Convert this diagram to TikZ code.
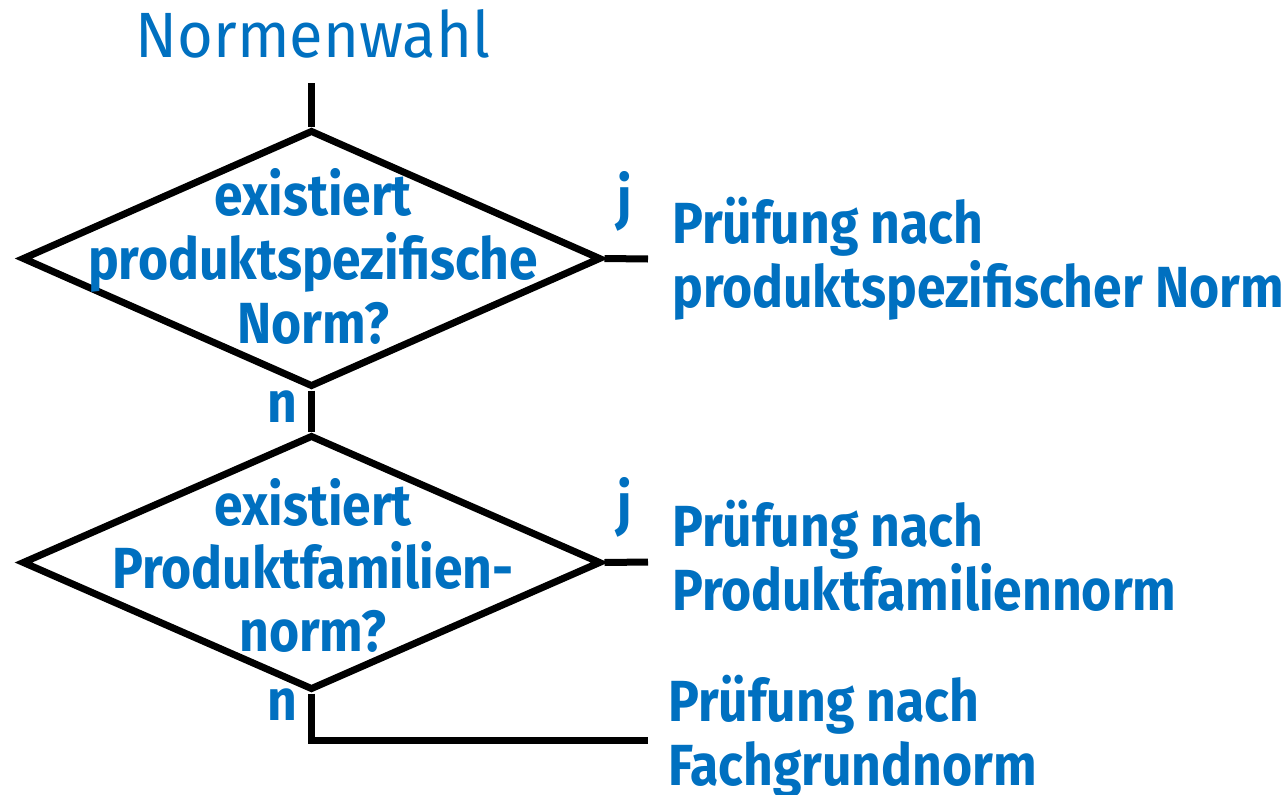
\documentclass[tikz,border=0pt]{standalone}
\usepackage{fontspec}
\setmainfont{Fira Sans}
\newfontfamily\bfam{Fira Sans}[FakeStretch=0.89]
\newfontfamily\tfam{Fira Sans}[FakeStretch=0.96]
\usetikzlibrary{shapes.geometric}
\definecolor{nblue}{RGB}{0,112,192}
\begin{document}
\begin{tikzpicture}[x=1pt,y=-1pt,
  line/.style={line width=7pt,draw=black},
  dia/.style={diamond,draw=black,line width=7pt,inner sep=0pt},
  lbl/.style={text=nblue,font=\bfam\fontsize{58}{64}\selectfont\bfseries,inner sep=0pt,anchor=base},
  res/.style={text=nblue,font=\bfam\fontsize{58}{64}\selectfont\bfseries,inner sep=0pt,align=left,anchor=base west},
  ttl/.style={text=nblue,font=\tfam\fontsize{64}{70}\selectfont,inner sep=0pt,anchor=base}]
\useasboundingbox (0,0) rectangle (1285,795);
\node[ttl] (title) at (313,57) {Normenwahl};
\coordinate (start) at (311.5,83);
\node[dia,minimum width=579pt,minimum height=257pt] (d1) at (311.5,258.5) {};
\node[dia,minimum width=579pt,minimum height=255pt] (d2) at (311.5,562.5) {};
\node[lbl] (q1a) at (313,215) {existiert};
\node[lbl] (q1b) at (313,279) {produktspezifische};
\node[lbl] (q1c) at (313,343) {Norm?};
\node[lbl] (q2a) at (313,525) {existiert};
\node[lbl] (q2b) at (313,588) {Produktfamilien-};
\node[lbl] (q2c) at (313,651) {norm?};
\node[lbl] (j1) at (625,218) {j};
\node[lbl] (j2) at (625,524) {j};
\node[lbl] (n1) at (282,422) {n};
\node[lbl] (n2) at (282,720) {n};
\node[res] (r1) at (672,307) {Prüfung nach\\produktspezifischer Norm};
\node[res] (r2) at (672,610) {Prüfung nach\\Produktfamiliennorm};
\node[res] (r3) at (668,785) {Prüfung nach\\Fachgrundnorm};
\coordinate (e1) at (648,259);
\coordinate (e2) at (648,562);
\coordinate (e3) at (648,740);
\draw[line] (start) -- (d1.north);
\draw[line] (d1.south) -- (d2.north);
\draw[line] (d1.east) -- (e1);
\draw[line] (d2.east) -- (e2);
\draw[line] (d2.south) |- (e3);
\end{tikzpicture}
\end{document}
